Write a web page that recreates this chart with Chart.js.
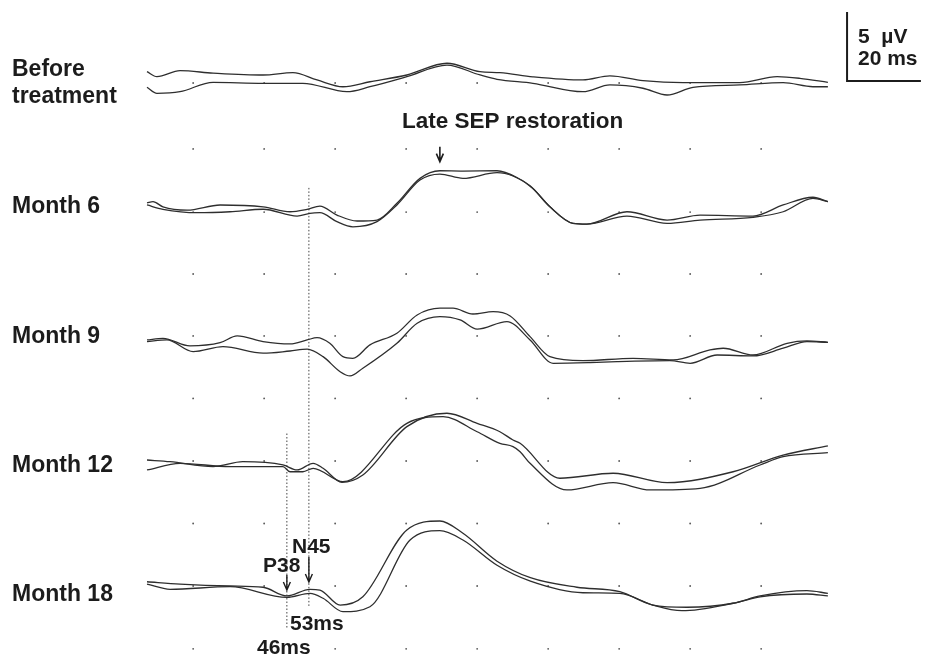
<!DOCTYPE html>
<html>
<head>
<meta charset="utf-8">
<script src="https://cdn.jsdelivr.net/npm/chart.js@4.4.1/dist/chart.umd.min.js"></script>
<style>
  html, body { margin: 0; padding: 0; background: #fff; }
  canvas { display: block; }
</style>
</head>
<body>
<canvas id="sep" width="925" height="654"></canvas>
<script>
// row labels and the baseline (µV) each pair of traces sits on
const rowLabels = [["Before", "treatment"], ["Month 6"], ["Month 9"], ["Month 12"], ["Month 18"]];
const rowBase = [0, -9.35, -18.33, -27.39, -36.45];

// dotted reference grid: times (ms) and levels (µV)
const gridTimes = [13, 33, 53, 73, 93, 113, 133, 153, 173];
const gridLevels = [0, -4.78, -9.35, -13.84, -18.33, -22.86, -27.39, -31.92, -36.45, -41.0];

// latency markers (ms)
const p38Time = 39.4;
const n45Time = 45.6;

// traces, [time ms, amplitude µV] relative to the row baseline
const beforeA = [[0,0.82],[2.8,0.46],[9.3,0.89],[18.6,0.72],[32.7,0.58],[41.1,0.75],[47.9,0.22],[55.2,-0.27],[62.8,0.09],[73.2,0.58],[84.5,1.43],[93.8,0.82],[99.4,0.75],[108.7,0.45],[122.8,0.22],[130.4,0.51],[139.7,0.17],[151,0.02],[167,0.02],[177.5,0.46],[183.9,0.34],[191.8,0.05]];
const beforeB = [[0,-0.31],[2.8,-0.75],[9.3,-0.63],[18.6,0.05],[32.7,-0.02],[43.9,-0.02],[56.3,-0.63],[62.8,-0.27],[73.2,0.46],[84.5,1.30],[93.8,0.58],[98.6,0.27],[108.7,-0.02],[122.8,-0.63],[130.4,-0.14],[139.7,-0.38],[146.5,-0.87],[153.8,-0.31],[167,-0.14],[179.2,0.02],[187.6,-0.27],[191.8,-0.27]];
const m6A = [[0,0.67],[1.7,0.75],[4.5,0.38],[11.3,0.14],[20.6,0.51],[32.7,0.38],[40.3,0.02],[45.1,0.20],[48.7,0.43],[53.5,-0.22],[59.2,-0.65],[64.8,-0.58],[70.4,0.63],[76.9,2.44],[82.5,2.99],[89,2.97],[98.6,2.99],[104.2,2.5],[108.7,1.7],[113.5,0.38],[120,-0.82],[123.9,-0.87],[135.2,0.02],[146.5,-0.58],[155.8,-0.22],[170.7,-0.29],[179.2,0.51],[187.6,1.07],[191.8,0.75]];
const m6B = [[0,0.51],[4.5,0.20],[14.1,-0.05],[23.4,0.02],[32.7,0.20],[42.3,-0.29],[45.9,-0.09],[48.7,-0.05],[53.5,-0.70],[58,-1.07],[64.8,-0.70],[70.4,0.51],[76.9,2.32],[82.5,2.75],[89,2.44],[98.6,2.85],[103.1,2.61],[107.9,1.9],[113.5,0.38],[120,-0.82],[123.9,-0.87],[135.2,-0.29],[146.5,-0.82],[155.8,-0.58],[170.7,-0.38],[179.2,0.02],[187.6,0.99],[191.8,0.75]];
const m9A = [[0,-0.29],[4.5,-0.17],[12.1,-0.72],[20.6,-0.49],[25.4,0],[32.7,-0.41],[40.3,-0.58],[45.1,-0.29],[47.9,-0.12],[51.5,-0.53],[55.2,-1.50],[58,-1.62],[62.8,-0.65],[70.4,0.20],[76.1,1.52],[82.5,2.01],[86.2,2.01],[91.8,1.59],[97.5,1.76],[102.3,1.45],[107.9,-0.05],[113.5,-1.50],[122.8,-1.79],[136.9,-1.62],[148.2,-1.74],[158.6,-1.01],[162.3,-0.89],[170.7,-1.38],[180.3,-0.53],[185.9,-0.36],[191.8,-0.46]];
const m9B = [[0,-0.41],[5.6,-0.29],[13,-1.14],[21.4,-0.78],[32.7,-1.25],[40.3,-1.09],[45.1,-0.96],[49.6,-1.50],[54.4,-2.59],[57.2,-2.90],[60.8,-2.34],[70.4,-0.53],[76.1,0.92],[82.5,1.40],[88.2,1.16],[93,0.49],[101.4,1.04],[107.9,-0.29],[114.4,-1.98],[124.8,-1.93],[132.4,-1.86],[147.3,-1.79],[153,-1.98],[160.6,-1.38],[170.7,-1.45],[179.2,-0.89],[185.9,-0.41],[191.8,-0.46]];
const m12A = [[0,0.07],[6.5,-0.05],[18.6,-0.41],[27,-0.05],[38.3,-0.29],[42.3,-0.65],[46.8,-0.17],[49.6,-0.53],[54.9,-1.54],[60.8,-1.01],[73.2,2.49],[84.5,3.46],[93,2.73],[99.4,2.12],[103.1,1.52],[105.1,1.28],[116.3,-1.25],[131.3,-0.89],[146.5,-1.57],[165.1,-0.78],[179.2,0.43],[191.8,1.09]];
const m12B = [[0,-0.65],[9.3,-0.17],[23.4,-0.41],[38.3,-0.41],[40.3,-0.78],[43.9,-0.78],[46.8,-0.53],[55.2,-1.50],[73.2,2.73],[83.4,3.21],[93,2.12],[99.4,1.28],[103.1,1.04],[105.1,0.67],[107.9,-0.17],[118.3,-2.10],[131.3,-1.57],[141.7,-2.10],[155.8,-1.98],[172.7,-0.29],[179.2,0.31],[191.8,0.60]];
const m18A = [[0,0.31],[9.3,0.14],[23.4,0],[32.7,-0.09],[39.4,-0.72],[45.9,-0.24],[48.7,-0.29],[54.4,-1.38],[60.8,-0.78],[73.2,4.06],[82.5,4.71],[89,3.82],[98.6,1.8],[108,0.6],[121.1,-0.09],[133.2,-0.41],[142.5,-1.38],[152.1,-1.54],[165.1,-1.25],[172.7,-0.72],[185.9,-0.34],[191.8,-0.53]];
const m18B = [[0,0.14],[6.5,-0.24],[23.4,-0.05],[39.4,-0.82],[45.9,-0.53],[49.6,-0.89],[55.2,-1.86],[62.8,-1.50],[74.1,3.33],[82.5,4.01],[89,3.33],[98.6,1.5],[108,0.35],[122.8,-0.49],[133.2,-0.53],[142.5,-1.38],[150.7,-1.79],[165.1,-1.25],[172.7,-0.78],[185.9,-0.58],[191.8,-0.72]];

const tracePairs = [[beforeA, beforeB], [m6A, m6B], [m9A, m9B], [m12A, m12B], [m18A, m18B]];

const FONT = '"Liberation Sans", Arial, Helvetica, sans-serif';
const INK = '#1c1c1c';

const datasets = [];
tracePairs.forEach((pair, i) => {
  pair.forEach(tr => {
    datasets.push({
      data: tr.map(p => ({ x: p[0], y: p[1] + rowBase[i] })),
      borderColor: '#2e2e2e',
      borderWidth: 1.3,
      pointRadius: 0,
      cubicInterpolationMode: 'monotone',
      fill: false
    });
  });
});

// grid dots
const dots = [];
gridLevels.forEach(l => gridTimes.forEach(t => dots.push({ x: t, y: l })));
datasets.push({
  type: 'scatter',
  data: dots,
  pointRadius: 0.9,
  pointBackgroundColor: '#555',
  pointBorderWidth: 0,
  showLine: false
});

// dotted latency lines
datasets.push({
  data: [{ x: n45Time, y: -7.6 }, { x: n45Time, y: -38.0 }],
  borderColor: '#444', borderWidth: 1, borderDash: [1.5, 2], pointRadius: 0
});
datasets.push({
  data: [{ x: p38Time, y: -25.4 }, { x: p38Time, y: -39.6 }],
  borderColor: '#444', borderWidth: 1, borderDash: [1.5, 2], pointRadius: 0
});

function arrow(ctx, x, y1, y2) {
  ctx.beginPath();
  ctx.moveTo(x, y1);
  ctx.lineTo(x, y2);
  ctx.moveTo(x - 3.5, y2 - 8);
  ctx.lineTo(x, y2);
  ctx.lineTo(x + 3.5, y2 - 8);
  ctx.stroke();
}

const annotations = {
  id: 'annotations',
  afterDatasetsDraw(chart) {
    const { ctx, scales: { x, y } } = chart;
    ctx.save();
    ctx.fillStyle = INK;
    ctx.strokeStyle = INK;
    ctx.textBaseline = 'alphabetic';

    // row labels
    ctx.font = 'bold 23px ' + FONT;
    const labelBase = [76, 213, 343, 472, 601];
    rowLabels.forEach((lines, i) => {
      lines.forEach((s, j) => ctx.fillText(s, 12, labelBase[i] + j * 27));
    });

    // late SEP arrow and text
    ctx.font = 'bold 22.5px ' + FONT;
    ctx.fillText('Late SEP restoration', 402, 128);
    ctx.lineWidth = 1.6;
    arrow(ctx, x.getPixelForValue(82.5), y.getPixelForValue(-4.62), y.getPixelForValue(-5.70));

    // P38 / N45 markers
    ctx.font = 'bold 21px ' + FONT;
    ctx.fillText('N45', 292, 553);
    ctx.fillText('P38', 263, 572);
    ctx.fillText('53ms', 290, 630);
    ctx.fillText('46ms', 257, 654);
    ctx.lineWidth = 1.4;
    arrow(ctx, x.getPixelForValue(p38Time), y.getPixelForValue(-35.65), y.getPixelForValue(-36.74));
    arrow(ctx, x.getPixelForValue(n45Time), y.getPixelForValue(-34.35), y.getPixelForValue(-36.16));

    // calibration bar: 5 µV / 20 ms
    const t0 = 197.2, v0 = 0.145;
    const bx = x.getPixelForValue(t0), by = y.getPixelForValue(v0);
    ctx.lineWidth = 2;
    ctx.beginPath();
    ctx.moveTo(bx, y.getPixelForValue(v0 + 5));
    ctx.lineTo(bx, by);
    ctx.lineTo(x.getPixelForValue(t0 + 20.8), by);
    ctx.stroke();
    ctx.font = 'bold 21px ' + FONT;
    ctx.fillText('5  \u00b5V', 858, 43);
    ctx.fillText('20 ms', 858, 65);
    ctx.restore();
  }
};

new Chart(document.getElementById('sep'), {
  type: 'line',
  data: { datasets: datasets },
  options: {
    responsive: false,
    animation: false,
    devicePixelRatio: 1,
    clip: false,
    layout: { padding: 0, autoPadding: false },
    plugins: { legend: { display: false }, tooltip: { enabled: false } },
    scales: {
      x: { type: 'linear', display: false, min: -147 / 3.55, max: (925 - 147) / 3.55 },
      y: { type: 'linear', display: false, min: (83 - 654) / 13.8, max: 83 / 13.8 }
    }
  },
  plugins: [annotations]
});
</script>
</body>
</html>
